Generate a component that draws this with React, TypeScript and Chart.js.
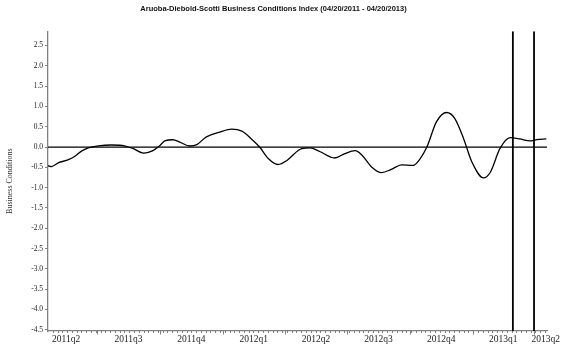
import React, { useEffect, useRef } from "react";
import { Chart, registerables } from "chart.js";

Chart.register(...registerables);

// Days elapsed since 04/20/2011
const days = [0, 5, 15, 30, 40, 49, 59, 74, 93, 113, 125, 140, 152, 164, 171, 183, 193, 208, 218, 232, 252, 269, 284, 298, 310, 323, 337, 350, 367, 372, 384, 398, 420, 435, 450, 460, 474, 489, 503, 518, 535, 545, 555, 569, 584, 596, 609, 621, 638, 648, 662, 677, 691, 706, 716, 730];
const values = [-0.46, -0.48, -0.39, -0.31, -0.22, -0.1, -0.02, 0.03, 0.05, 0.025, -0.04, -0.15, -0.1, 0.04, 0.15, 0.18, 0.12, 0.025, 0.06, 0.25, 0.37, 0.44, 0.39, 0.2, 0.0, -0.29, -0.43, -0.33, -0.08, -0.04, -0.02, -0.11, -0.27, -0.16, -0.09, -0.2, -0.49, -0.63, -0.55, -0.44, -0.45, -0.29, 0.0, 0.62, 0.85, 0.7, 0.2, -0.37, -0.76, -0.62, -0.04, 0.23, 0.2, 0.15, 0.18, 0.2];

const quarterLabels = ["2011q2", "2011q3", "2011q4", "2012q1", "2012q2", "2012q3", "2012q4", "2013q1", "2013q2"];
const quarterLabelDays = [26.5, 118, 210, 301.5, 392.5, 484, 576, 667, 729];
const quarterStartDays = [72, 164, 256, 347, 438, 530, 622, 712];
const markerDays = [681, 712];
const yTickValues = [-4.5, -4.0, -3.5, -3.0, -2.5, -2.0, -1.5, -1.0, -0.5, 0.0, 0.5, 1.0, 1.5, 2.0, 2.5];
const X_MIN = 0;
const X_MAX = 731;
const Y_MIN = -4.53;
const Y_MAX = 2.85;

const axisTicksPlugin = {
  id: "axisTicks",
  afterDraw(chart: any) {
    const { ctx, chartArea, scales } = chart;
    const xs = scales.x;
    ctx.save();
    ctx.strokeStyle = "#808080";
    ctx.lineWidth = 1;
    ctx.beginPath();
    for (let d = 7; d < X_MAX; d += 7) {
      const px = Math.round(xs.getPixelForValue(d)) + 0.5;
      ctx.moveTo(px, chartArea.bottom);
      ctx.lineTo(px, chartArea.bottom + 2);
    }
    quarterStartDays.forEach((d) => {
      const px = Math.round(xs.getPixelForValue(d)) + 0.5;
      ctx.moveTo(px, chartArea.bottom);
      ctx.lineTo(px, chartArea.bottom + 3.5);
    });
    ctx.stroke();
    ctx.restore();
  },
};

export default function App() {
  const ref = useRef<HTMLCanvasElement | null>(null);
  useEffect(() => {
    if (!ref.current) return;
    const serif = "'Liberation Serif', 'Times New Roman', serif";
    const datasets: any[] = [
      {
        data: [
          { x: X_MIN, y: 0 },
          { x: X_MAX, y: 0 },
        ],
        borderColor: "#000",
        borderWidth: 1.3,
        pointRadius: 0,
      },
      {
        data: days.map((d, i) => ({ x: d, y: values[i] })),
        borderColor: "#000",
        borderWidth: 1.3,
        pointRadius: 0,
        cubicInterpolationMode: "monotone",
      },
      ...markerDays.map((d) => ({
        data: [
          { x: d, y: Y_MIN },
          { x: d, y: Y_MAX },
        ],
        borderColor: "#000",
        borderWidth: 1.8,
        pointRadius: 0,
      })),
    ];
    const chart = new Chart(ref.current, {
      type: "line",
      data: { datasets },
      plugins: [axisTicksPlugin],
      options: {
        animation: false,
        responsive: false,
        layout: { padding: { left: 0, right: 28, top: 0, bottom: 0 } },
        plugins: {
          legend: { display: false },
          tooltip: { enabled: false },
          title: {
            display: true,
            text: "Aruoba-Diebold-Scotti Business Conditions Index (04/20/2011 - 04/20/2013)",
            color: "#111",
            font: { family: "'Liberation Sans', Arial, sans-serif", size: 7.5, weight: "bold" },
            padding: { top: 4, bottom: 18.3 },
          },
        },
        scales: {
          x: {
            type: "linear",
            min: X_MIN,
            max: X_MAX,
            afterBuildTicks: (scale: any) => {
              scale.ticks = quarterLabelDays.map((v) => ({ value: v }));
            },
            afterFit: (scale: any) => {
              scale.height = 25;
            },
            ticks: {
              autoSkip: false,
              maxRotation: 0,
              minRotation: 0,
              padding: 3,
              color: "#222",
              font: { family: serif, size: 9.5 },
              callback: (_v: any, i: number) => quarterLabels[i],
            },
            grid: { drawOnChartArea: false, drawTicks: false },
            border: { display: true, color: "#808080", width: 1.3 },
          },
          y: {
            type: "linear",
            min: Y_MIN,
            max: Y_MAX,
            afterBuildTicks: (scale: any) => {
              scale.ticks = yTickValues.map((v) => ({ value: v }));
            },
            afterFit: (scale: any) => {
              scale.width = 48;
            },
            ticks: {
              padding: 2,
              color: "#222",
              font: { family: serif, size: 7.5 },
              callback: (v: any) => Number(v).toFixed(1),
            },
            grid: { drawOnChartArea: false, drawTicks: true, tickLength: 3, tickColor: "#808080", tickWidth: 1 },
            border: { display: true, color: "#808080", width: 1.3 },
            title: {
              display: true,
              text: "Business Conditions",
              color: "#333",
              font: { family: serif, size: 8 },
              padding: { top: 5, bottom: 0 },
            },
          },
        },
      } as any,
    });
    return () => chart.destroy();
  }, []);
  return (
    <div style={{ position: "absolute", left: 0, top: 0, width: 575, height: 356, background: "#fff" }}>
      <canvas ref={ref} width={575} height={356} />
    </div>
  );
}
